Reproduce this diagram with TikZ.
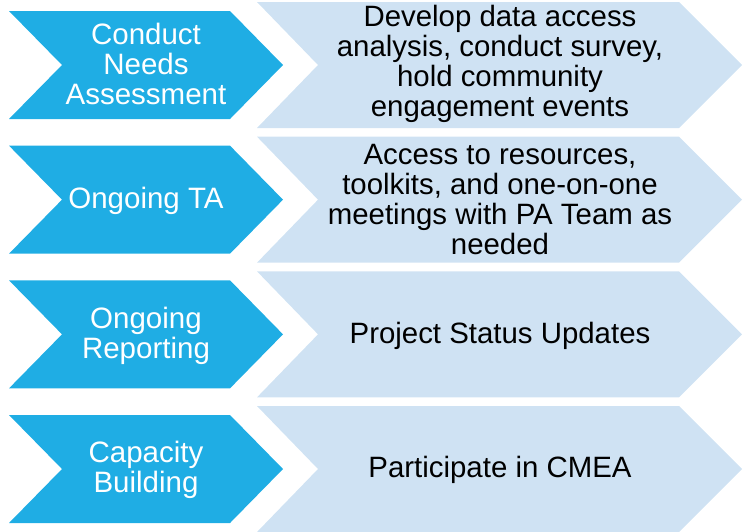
\documentclass[tikz,border=0pt]{standalone}
\usepackage{fontspec}
\setmainfont{Liberation Sans}
\usepackage{tikz}
\definecolor{stepblue}{HTML}{1FADE4}
\definecolor{paleblue}{HTML}{CFE2F3}
\tikzstyle{head} = [text=white, font=\fontsize{29.5}{30}\selectfont, align=center]
\tikzstyle{body} = [text=black, font=\fontsize{29.4}{30}\selectfont, align=center]

\begin{document}
\begin{tikzpicture}[x=1pt, y=-1pt]
    \useasboundingbox (0,0) rectangle (743,531);

    % chevrons, one row per step
    \foreach \yc in {65, 199.67, 334.33, 469} {
        \fill[paleblue] (257,\yc-63) -- (679,\yc-63) -- (742,\yc) -- (679,\yc+63) -- (257,\yc+63) -- (318,\yc) -- cycle;
        \fill[stepblue] (9,\yc-54) -- (230,\yc-54) -- (283,\yc) -- (230,\yc+54) -- (9,\yc+54) -- (62,\yc) -- cycle;
    }

    \node[head] (needs) at (146,64) {Conduct\\Needs\\Assessment};
    \node[body] (needstask) at (500,64) {Develop data access\\analysis, conduct survey,\\hold community\\engagement events};

    \node[head] (ta) at (146,200.67) {Ongoing TA};
    \node[body] (tatask) at (500,199.67) {Access to resources,\\toolkits, and one-on-one\\meetings with PA Team as\\needed};

    \node[head] (report) at (146,336.33) {Ongoing\\Reporting};
    \node[body] (reporttask) at (500,336.33) {Project Status Updates};

    \node[head] (capacity) at (146,470) {Capacity\\Building};
    \node[body] (capacitytask) at (500,470) {Participate in CMEA};
\end{tikzpicture}
\end{document}
